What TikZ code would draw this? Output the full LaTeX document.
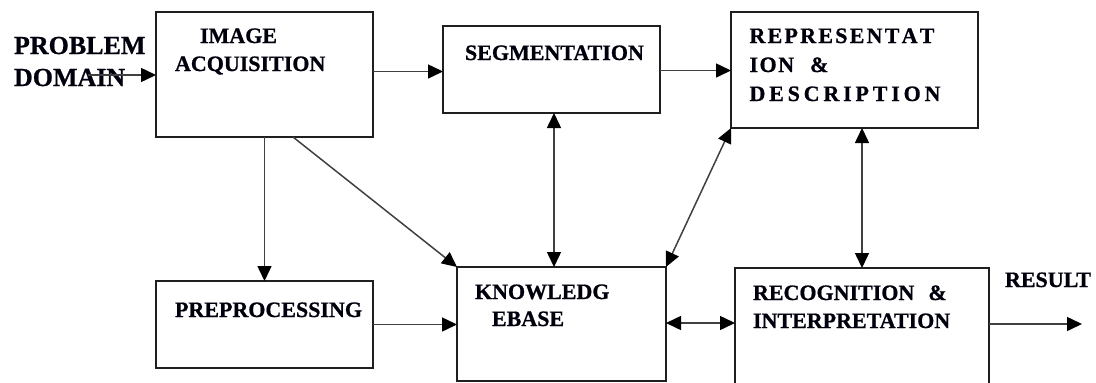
\documentclass[tikz,border=0pt]{standalone}
\usepackage{fontspec}
\setmainfont{Liberation Serif}[BoldFeatures={FakeBold=0.8}]
\usetikzlibrary{arrows.meta,calc}
\begin{document}
\begin{tikzpicture}[x=1pt,y=-1pt,
  box/.style={draw=black!88,line width=1.6pt,minimum width=#1,inner sep=0pt,outer sep=0pt},
  lbl/.style={anchor=base west,inner sep=0pt,outer sep=0pt,font=\fontsize{22}{26}\selectfont\bfseries,text=black!95!blue},
  big/.style={anchor=base west,inner sep=0pt,outer sep=0pt,font=\fontsize{26}{30}\selectfont\bfseries,text=black!95!blue},
  conn/.style={draw=black!75,line width=1.5pt},
  tip/.style={Triangle[length=15pt,width=14pt,fill=black,color=black]},
  arr/.style={conn,-{Triangle[length=15pt,width=14pt,color=black]}},
  darr/.style={conn,{Triangle[length=15pt,width=14pt,color=black]}-{Triangle[length=15pt,width=14pt,color=black]}}]
\path[use as bounding box] (0,0) rectangle (1096,383);
\clip (0,0) rectangle (1096,383);
% boxes
\node[box=217pt,minimum height=125pt] (IA) at (264.5,74.5) {};
\node[box=217pt,minimum height=87pt] (SEG) at (551.5,69.5) {};
\node[box=247pt,minimum height=116pt] (REP) at (854.5,70) {};
\node[box=217pt,minimum height=87pt] (PRE) at (264.5,324.5) {};
\node[box=209pt,minimum height=114pt] (KB) at (561.5,324) {};
\node[box=254pt,minimum height=140pt] (REC) at (862,338) {};
% texts
\node[big] (t1) at (14,54) {PROBLEM};
\node[big] (t2) at (14,86) {DOMAIN};
\node[lbl] (t3) at (200,43) {IMAGE};
\node[lbl] (t4) at (175,71) {ACQUISITION};
\node[lbl] (t5) at (465,60) {SEGMENTATION};
\node[lbl] (t6) at (749.5,43) {\hbox to 185pt{R\hfil E\hfil P\hfil R\hfil E\hfil S\hfil E\hfil N\hfil T\hfil A\hfil T}};
\node[lbl] (t7) at (749.5,72) {I\kern1.5pt O\kern1.5pt N\kern16pt\&};
\node[lbl] (t8) at (749.5,101) {\hbox to 191pt{D\hfil E\hfil S\hfil C\hfil R\hfil I\hfil P\hfil T\hfil I\hfil O\hfil N}};
\node[lbl] (t9) at (175,317) {PREPROCESSING};
\node[lbl] (t10) at (475,299) {KNOWLEDG};
\node[lbl] (t11) at (492,326) {EBASE};
\node[lbl] (t12) at (753,300) {RECOGNITION\kern14pt\&};
\node[lbl] (t13) at (753,328) {INTERPRETATION};
\node[lbl] (t14) at (1005,287) {RESULT};
% connectors
\coordinate (pd) at (88,75);
\draw[arr] (pd) -- (pd -| IA.west);
\draw[arr] ([yshift=3pt]IA.east) -- ([yshift=3pt]IA.east -| SEG.west);
\draw[arr] ([yshift=-1pt]SEG.east) -- ([yshift=-1pt]SEG.east -| REP.west);
\draw[arr] (IA.south) -- (PRE.north);
\draw[arr] ([xshift=28.5pt]IA.south) -- (KB.north west);
\draw[darr] ([xshift=2.5pt]SEG.south) -- ([xshift=2.5pt]SEG.south |- KB.north);
\draw[darr] (KB.north east) -- (REP.south west);
\draw[darr] (REC.north |- REP.south) -- (REC.north);
\draw[arr] (PRE.east) -- (PRE.east -| KB.west);
\draw[darr] ([yshift=1pt]KB.east) -- ([yshift=1pt]KB.east -| REC.west);
\coordinate (res) at (1082,324);
\draw[arr] (res -| REC.east) -- (res);
\end{tikzpicture}
\end{document}
